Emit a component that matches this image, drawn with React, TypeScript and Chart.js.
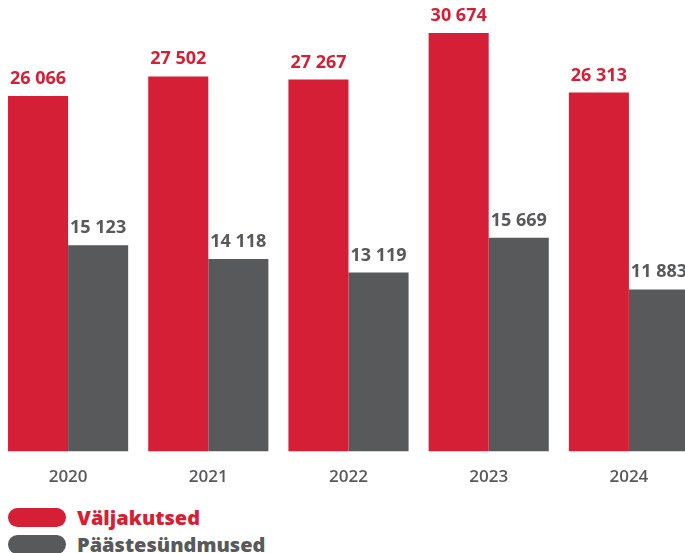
import React, { useEffect, useRef } from "react";
import { Chart, registerables } from "chart.js";

Chart.register(...registerables);

const years = ["2020", "2021", "2022", "2023", "2024"];
const challenges = [26066, 27502, 27267, 30674, 26313];
const rescues = [15123, 14118, 13119, 15669, 11883];
const seriesNames = ["Väljakutsed", "Päästesündmused"];

const RED = "#D51F36";
const GRAY = "#58595B";
const FONT = "'Open Sans', 'Noto Sans', sans-serif";

const fmt = (v: number) => String(v).replace(/\B(?=(\d{3})+(?!\d))/g, " ");

const labelPlugin = {
  id: "valueLabels",
  afterDatasetsDraw(chart: any) {
    const ctx = chart.ctx;
    ctx.save();
    ctx.font = `bold 18px ${FONT}`;
    ctx.textAlign = "center";
    ctx.textBaseline = "alphabetic";
    chart.data.datasets.forEach((ds: any, i: number) => {
      const meta = chart.getDatasetMeta(i);
      ctx.fillStyle = ds.backgroundColor;
      meta.data.forEach((el: any, j: number) => {
        ctx.fillText(fmt(ds.data[j]), el.x, el.y - 12);
      });
    });
    ctx.restore();
  },
};

export default function App() {
  const ref = useRef<HTMLCanvasElement | null>(null);
  useEffect(() => {
    if (!ref.current) return;
    const chart = new Chart(ref.current, {
      type: "bar",
      data: {
        labels: years,
        datasets: [
          { label: seriesNames[0], data: challenges, backgroundColor: RED },
          { label: seriesNames[1], data: rescues, backgroundColor: GRAY },
        ],
      },
      options: {
        animation: false,
        responsive: true,
        maintainAspectRatio: false,
        layout: { padding: 0 },
        categoryPercentage: 0.857,
        barPercentage: 1,
        plugins: { legend: { display: false }, tooltip: { enabled: false } },
        scales: {
          x: {
            grid: { display: false },
            border: { display: false },
            ticks: { color: GRAY, font: { family: FONT, size: 17, weight: "600" }, padding: 7 },
          },
          y: { display: false, min: 0, max: 33100 },
        },
      } as any,
      plugins: [labelPlugin],
    });
    return () => chart.destroy();
  }, []);

  const pill = (c: string) => ({
    display: "inline-block",
    width: 58,
    height: 19,
    borderRadius: 10,
    background: c,
    marginRight: 11,
  });
  const txt = (c: string) => ({
    color: c,
    fontFamily: FONT,
    fontWeight: 800,
    fontSize: 20,
    lineHeight: "27px",
  });

  return (
    <div style={{ position: "fixed", left: 0, top: 0, width: 685, height: 553, overflow: "hidden", background: "#fff" }}>
      <div style={{ position: "absolute", left: -2, top: 0, width: 701, height: 494 }}>
        <canvas ref={ref} />
      </div>
      <div style={{ position: "absolute", left: 8, top: 504 }}>
        <div style={{ height: 27, display: "flex", alignItems: "center" }}>
          <span style={pill(RED)} />
          <span style={txt(RED)}>{seriesNames[0]}</span>
        </div>
        <div style={{ height: 27, display: "flex", alignItems: "center" }}>
          <span style={pill(GRAY)} />
          <span style={txt(GRAY)}>{seriesNames[1]}</span>
        </div>
      </div>
    </div>
  );
}
